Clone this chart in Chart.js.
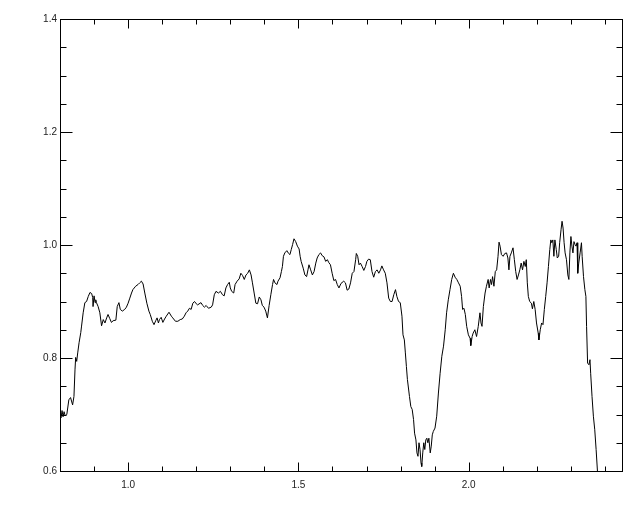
<!DOCTYPE html>
<html>
<head>
<meta charset="utf-8">
<script src="https://cdn.jsdelivr.net/npm/chart.js@4/dist/chart.umd.min.js"></script>
<style>
  html, body { margin: 0; padding: 0; background: #fff; }
  #wrap { width: 640px; height: 512px; }
</style>
</head>
<body>
<div id="wrap"><canvas id="plot" width="640" height="512"></canvas></div>
<script>
// Valores
const xVals = [
  0.800,0.803,0.806,0.809,0.812,0.815,0.820,0.826,0.831,0.837,
  0.841,0.844,0.846,0.849,0.852,0.856,0.861,0.863,0.868,0.873,
  0.878,0.883,0.888,0.893,0.896,0.897,0.900,0.903,0.905,0.907,
  0.912,0.917,0.922,0.927,0.932,0.937,0.941,0.946,0.951,0.956,
  0.964,0.968,0.973,0.977,0.983,0.990,0.995,1.000,1.005,1.010,
  1.014,1.022,1.029,1.034,1.039,1.044,1.049,1.055,1.061,1.065,
  1.071,1.076,1.081,1.085,1.089,1.092,1.097,1.102,1.107,1.112,
  1.120,1.127,1.131,1.139,1.146,1.153,1.159,1.165,1.170,1.175,
  1.180,1.185,1.190,1.195,1.200,1.204,1.214,1.219,1.224,1.229,
  1.236,1.244,1.248,1.253,1.258,1.265,1.271,1.277,1.282,1.287,
  1.292,1.297,1.300,1.304,1.310,1.314,1.320,1.326,1.331,1.336,
  1.341,1.346,1.351,1.356,1.361,1.365,1.370,1.375,1.380,1.385,
  1.390,1.394,1.399,1.404,1.409,1.414,1.419,1.424,1.427,1.431,
  1.437,1.440,1.446,1.450,1.453,1.456,1.460,1.466,1.470,1.475,
  1.479,1.483,1.487,1.492,1.497,1.502,1.505,1.508,1.514,1.519,
  1.524,1.528,1.531,1.536,1.541,1.546,1.551,1.555,1.560,1.565,
  1.570,1.575,1.580,1.585,1.589,1.594,1.599,1.604,1.609,1.614,
  1.619,1.625,1.633,1.638,1.643,1.648,1.653,1.658,1.663,1.668,
  1.670,1.674,1.678,1.682,1.687,1.692,1.697,1.701,1.706,1.711,
  1.716,1.721,1.726,1.731,1.736,1.741,1.745,1.750,1.755,1.760,
  1.765,1.770,1.775,1.780,1.785,1.789,1.794,1.799,1.804,1.807,
  1.811,1.814,1.817,1.820,1.826,1.830,1.834,1.838,1.841,1.845,
  1.848,1.851,1.854,1.857,1.860,1.862,1.865,1.868,1.871,1.874,
  1.877,1.880,1.883,1.887,1.890,1.893,1.896,1.901,1.906,1.911,
  1.916,1.921,1.926,1.931,1.935,1.940,1.945,1.950,1.955,1.960,
  1.965,1.970,1.975,1.979,1.982,1.986,1.990,1.994,1.999,2.004,
  2.006,2.010,2.013,2.018,2.023,2.028,2.033,2.036,2.039,2.043,
  2.048,2.052,2.057,2.060,2.064,2.067,2.070,2.074,2.078,2.082,
  2.086,2.089,2.092,2.096,2.101,2.106,2.111,2.115,2.118,2.121,
  2.125,2.130,2.134,2.138,2.142,2.146,2.150,2.154,2.158,2.162,
  2.166,2.169,2.172,2.175,2.179,2.184,2.187,2.191,2.195,2.199,
  2.204,2.206,2.210,2.214,2.218,2.222,2.226,2.230,2.234,2.238,
  2.241,2.244,2.247,2.250,2.253,2.257,2.260,2.264,2.267,2.271,
  2.274,2.277,2.280,2.283,2.287,2.291,2.294,2.297,2.300,2.303,
  2.306,2.309,2.312,2.315,2.318,2.320,2.323,2.327,2.331,2.333,
  2.337,2.341,2.344,2.346,2.349,2.353,2.356,2.358,2.362,2.366,
  2.370,2.374,2.378,2.381
];

const yVals = [
  0.700,0.694,0.707,0.696,0.705,0.698,0.700,0.726,0.730,0.717,
  0.732,0.779,0.801,0.794,0.809,0.827,0.845,0.855,0.880,0.898,
  0.900,0.909,0.916,0.914,0.907,0.891,0.910,0.898,0.903,0.898,
  0.891,0.880,0.857,0.868,0.862,0.871,0.877,0.870,0.863,0.866,
  0.867,0.891,0.898,0.886,0.883,0.886,0.890,0.897,0.906,0.915,
  0.921,0.927,0.930,0.933,0.936,0.931,0.915,0.897,0.883,0.877,
  0.865,0.859,0.866,0.871,0.862,0.868,0.872,0.863,0.869,0.874,
  0.881,0.874,0.871,0.865,0.865,0.868,0.869,0.874,0.880,0.883,
  0.888,0.886,0.897,0.900,0.896,0.894,0.898,0.893,0.890,0.893,
  0.888,0.890,0.894,0.912,0.918,0.915,0.918,0.912,0.910,0.924,
  0.930,0.934,0.924,0.918,0.915,0.930,0.936,0.940,0.950,0.946,
  0.939,0.947,0.950,0.956,0.947,0.933,0.915,0.897,0.896,0.908,
  0.903,0.893,0.890,0.883,0.871,0.893,0.912,0.930,0.939,0.933,
  0.930,0.936,0.942,0.953,0.962,0.980,0.986,0.990,0.986,0.983,
  0.992,1.001,1.011,1.006,0.998,0.993,0.980,0.971,0.959,0.947,
  0.944,0.956,0.965,0.956,0.947,0.953,0.968,0.977,0.983,0.986,
  0.981,0.979,0.971,0.974,0.969,0.965,0.950,0.937,0.939,0.930,
  0.924,0.932,0.936,0.933,0.920,0.922,0.933,0.950,0.953,0.974,
  0.985,0.980,0.965,0.968,0.962,0.955,0.962,0.971,0.975,0.974,
  0.953,0.943,0.953,0.956,0.950,0.956,0.963,0.956,0.950,0.933,
  0.906,0.900,0.900,0.912,0.921,0.909,0.900,0.898,0.874,0.841,
  0.832,0.809,0.785,0.762,0.732,0.714,0.709,0.691,0.667,0.655,
  0.632,0.626,0.650,0.638,0.614,0.608,0.632,0.650,0.638,0.655,
  0.658,0.650,0.658,0.632,0.644,0.664,0.670,0.676,0.697,0.738,
  0.773,0.803,0.821,0.850,0.880,0.903,0.921,0.939,0.950,0.943,
  0.939,0.933,0.927,0.909,0.886,0.888,0.877,0.856,0.841,0.835,
  0.822,0.838,0.844,0.850,0.838,0.856,0.880,0.862,0.856,0.891,
  0.915,0.927,0.939,0.924,0.939,0.930,0.944,0.927,0.953,0.956,
  0.980,1.005,0.998,0.983,0.980,0.985,0.986,0.977,0.956,0.980,
  0.986,0.995,0.974,0.953,0.939,0.947,0.956,0.968,0.956,0.971,
  0.962,0.974,0.933,0.909,0.900,0.897,0.887,0.900,0.886,0.862,
  0.844,0.832,0.850,0.862,0.859,0.886,0.909,0.933,0.962,0.992,
  1.009,1.004,1.009,0.980,1.009,0.992,0.977,0.980,1.004,1.027,
  1.042,1.030,1.004,0.986,0.974,0.947,0.939,0.986,1.015,0.998,
  0.986,1.006,1.001,0.998,1.004,0.950,0.968,0.986,1.004,0.980,
  0.944,0.921,0.909,0.856,0.791,0.788,0.797,0.773,0.732,0.697,
  0.673,0.638,0.599,0.590
];

// Limites dos eixos e rótulos
const xRange = [0.8, 2.45];
const yRange = [0.6, 1.4];
const xMajorLabels = ['1.0', '1.5', '2.0'];
const yMajorLabels = ['0.6', '0.8', '1.0', '1.2', '1.4'];

const points = xVals.map((x, i) => ({ x: x, y: yVals[i] }));

// Moldura e marcas internas nos quatro lados (estilo IDL)
const frameTicks = {
    id: 'frameTicks',
    afterDraw(chart) {
        const { ctx, chartArea: a, scales } = chart;
        const xs = scales.x, ys = scales.y;
        const L = Math.round(a.left) + 0.5, R = Math.round(a.right) + 0.5;
        const T = Math.round(a.top) + 0.5, B = Math.round(a.bottom) + 0.5;
        ctx.save();
        ctx.strokeStyle = '#000';
        ctx.lineWidth = 1;
        ctx.beginPath();
        xs.ticks.forEach(t => {
            if (t.value <= xs.min || t.value >= xs.max) return;
            const px = Math.round(xs.getPixelForValue(t.value)) + 0.5;
            const len = t.label ? 9 : 5;
            ctx.moveTo(px, B); ctx.lineTo(px, B - len);
            ctx.moveTo(px, T); ctx.lineTo(px, T + len);
        });
        ys.ticks.forEach(t => {
            if (t.value <= ys.min || t.value >= ys.max) return;
            const py = Math.round(ys.getPixelForValue(t.value)) + 0.5;
            const len = t.label ? 12 : 6;
            ctx.moveTo(L, py); ctx.lineTo(L + len, py);
            ctx.moveTo(R, py); ctx.lineTo(R - len, py);
        });
        ctx.stroke();
        ctx.strokeRect(L, T, R - L, B - T);
        ctx.restore();
    }
};

Chart.defaults.font.family = '"Liberation Sans", Arial, sans-serif';
Chart.defaults.font.size = 10;
Chart.defaults.color = '#222';

new Chart(document.getElementById('plot'), {
    type: 'line',
    data: {
        datasets: [{
            data: points,
            borderColor: '#000',
            borderWidth: 1,
            pointRadius: 0,
            fill: false,
            tension: 0
        }]
    },
    options: {
        responsive: false,
        animation: false,
        devicePixelRatio: 1,
        layout: { padding: { top: 19, right: 18, left: 0, bottom: 0 } },
        plugins: {
            legend: { display: false },
            tooltip: { enabled: false }
        },
        scales: {
            x: {
                type: 'linear',
                min: xRange[0],
                max: xRange[1],
                grid: { display: false, drawTicks: false },
                border: { display: false },
                ticks: {
                    stepSize: 0.1,
                    includeBounds: false,
                    autoSkip: false,
                    maxRotation: 0,
                    padding: 8,
                    callback: function(value) {
                        const s = value.toFixed(1);
                        return xMajorLabels.includes(s) ? s : '';
                    }
                },
                afterFit: function(scale) { scale.height = 41; }
            },
            y: {
                type: 'linear',
                min: yRange[0],
                max: yRange[1],
                grid: { display: false, drawTicks: false },
                border: { display: false },
                ticks: {
                    stepSize: 0.05,
                    autoSkip: false,
                    padding: 3,
                    callback: function(value) {
                        const s = value.toFixed(1);
                        return (Math.abs(value - parseFloat(s)) < 1e-6 && yMajorLabels.includes(s)) ? s : '';
                    }
                },
                afterFit: function(scale) { scale.width = 60; }
            }
        }
    },
    plugins: [frameTicks]
});
</script>
</body>
</html>
